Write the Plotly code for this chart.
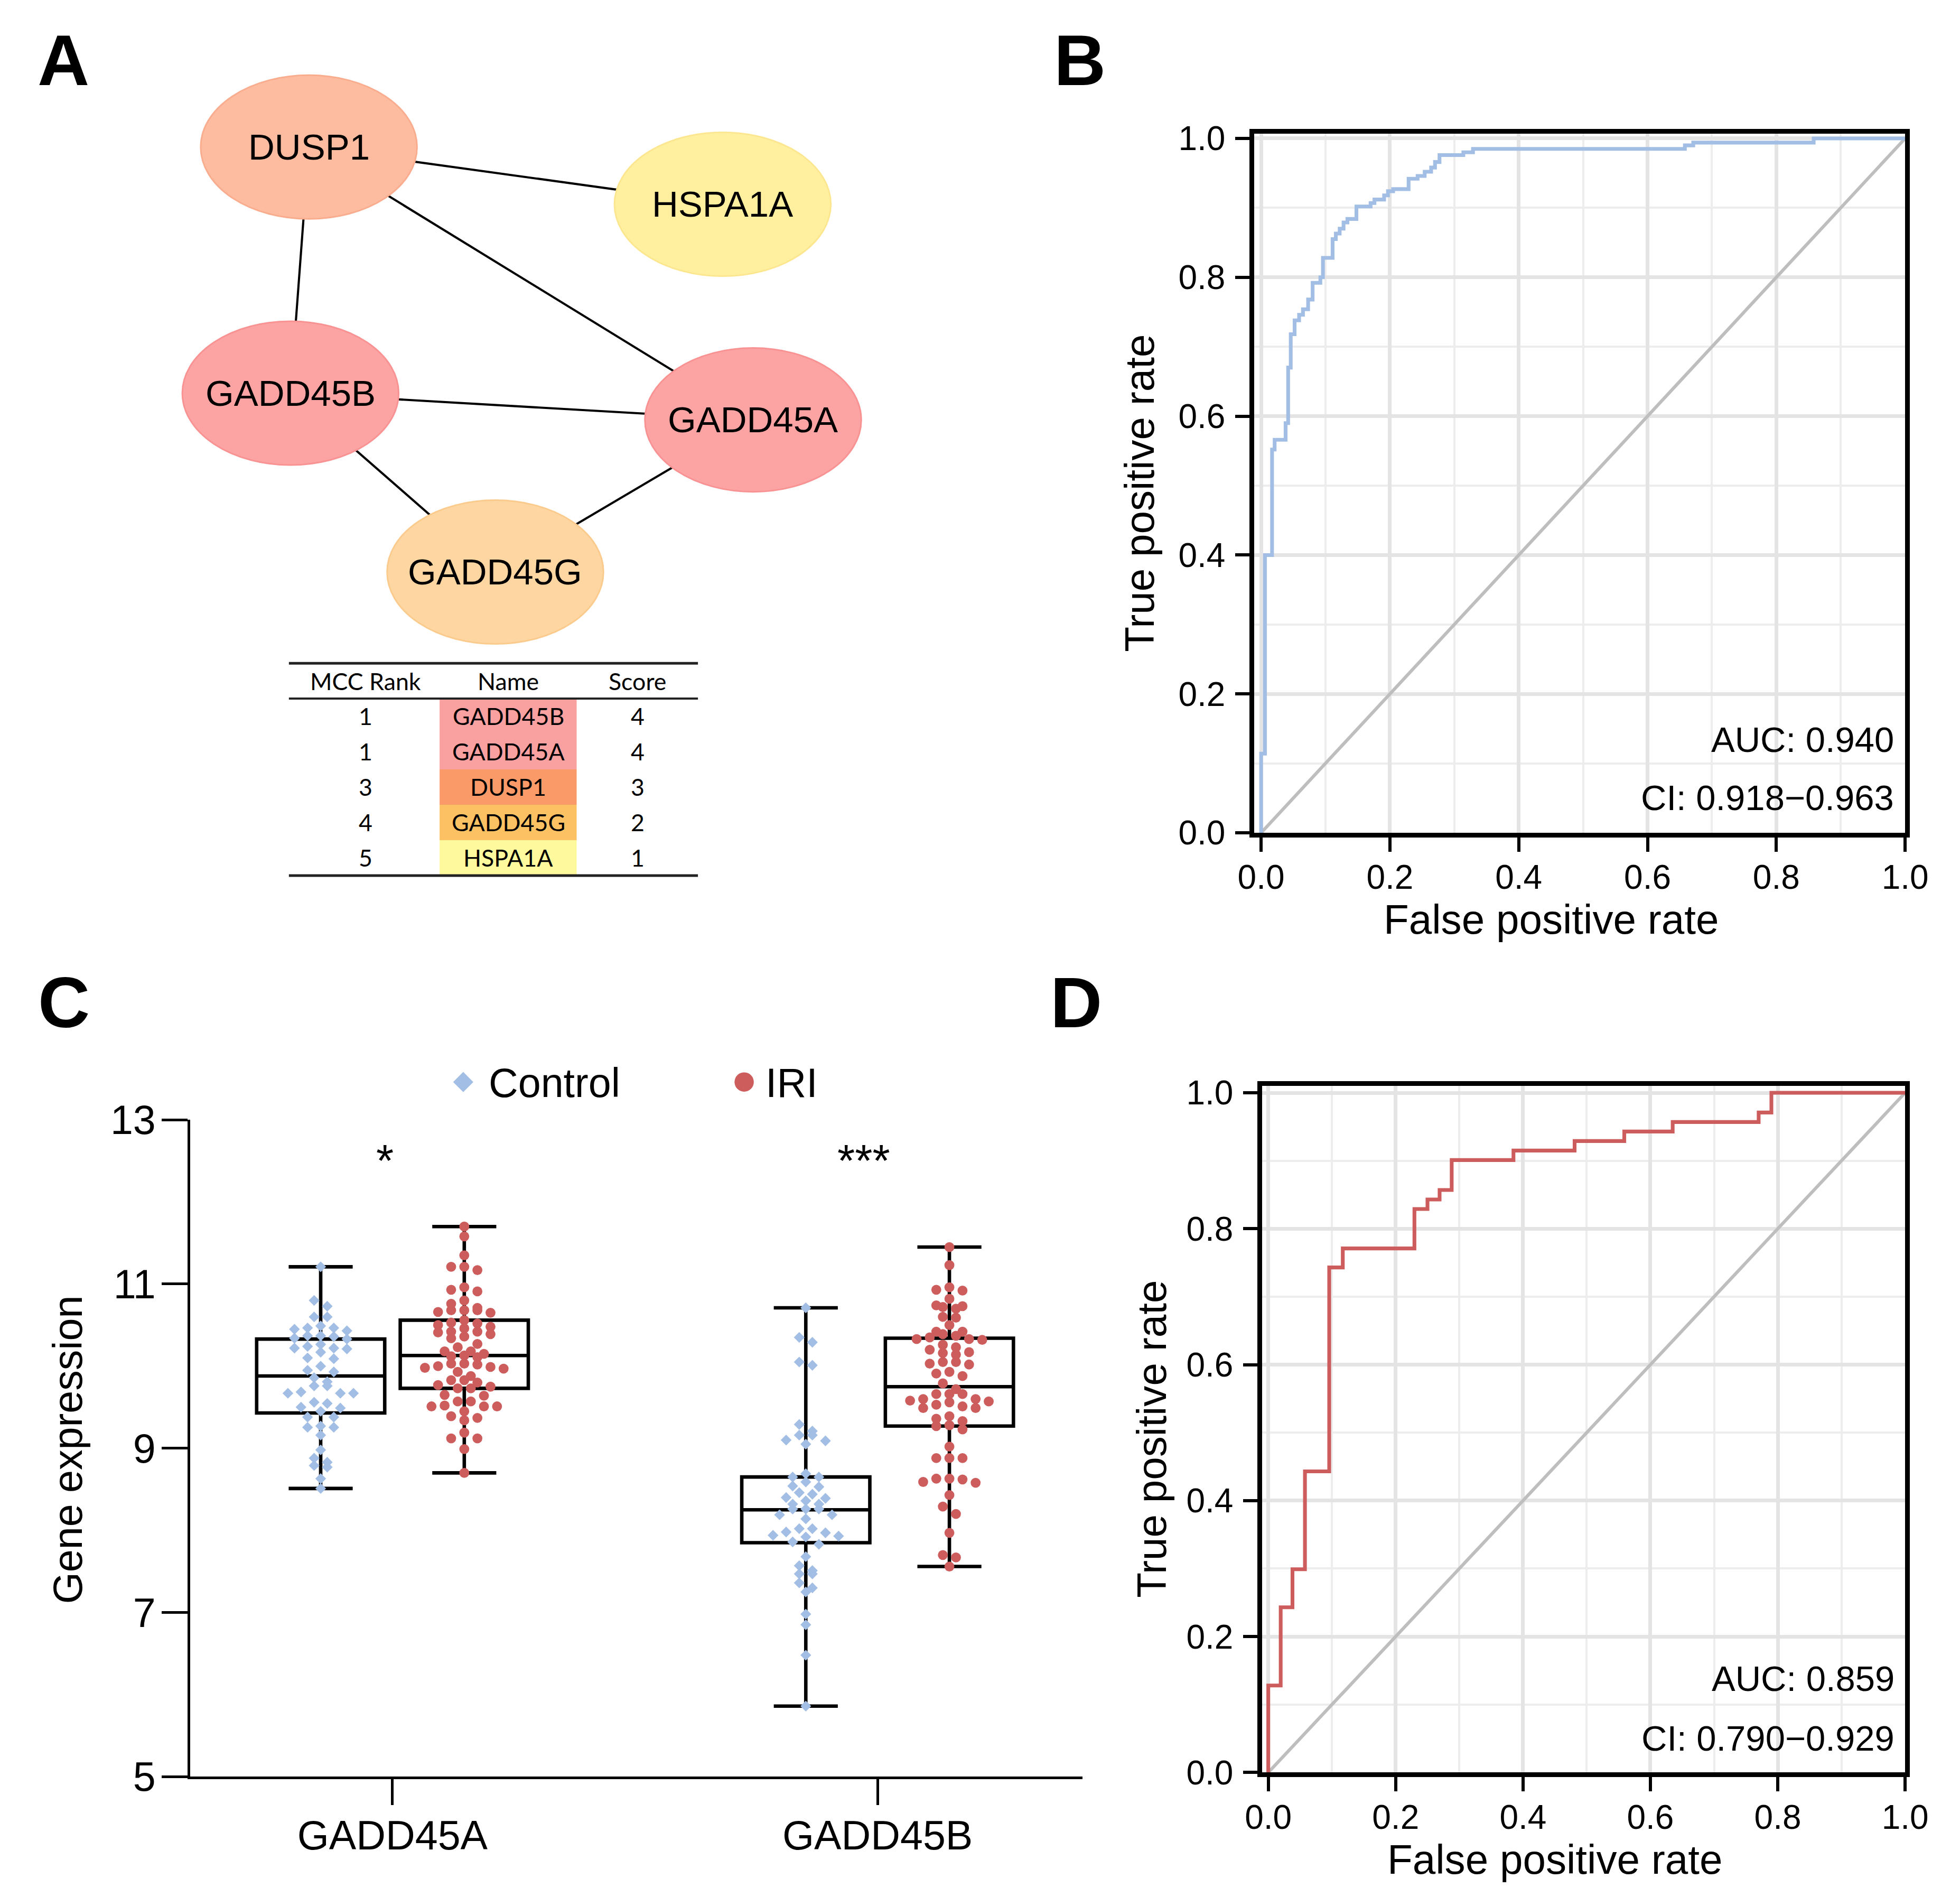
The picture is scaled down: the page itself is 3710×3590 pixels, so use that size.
import numpy as np
import plotly.graph_objects as go

W, H = 3710, 3590
FONT = "Liberation Sans, Arial, sans-serif"
TFONT = "Lato, Open Sans, sans-serif"

# ---------------- Panel A: network (layout) ----------------
node_names = ["DUSP1", "HSPA1A", "GADD45B", "GADD45A", "GADD45G"]
node_x = [587, 1375, 552, 1433, 942]
node_y = [275, 384, 744, 795, 1085]
node_colors = ["#FDBCA0", "#FFF0A0", "#FCA3A3", "#FCA3A3", "#FDD6A1"]
node_border = ["#F9AD8E", "#FCE790", "#F99393", "#F99393", "#FBCB8E"]
edge_from = ["DUSP1", "DUSP1", "DUSP1", "GADD45B", "GADD45B", "GADD45A"]
edge_to = ["HSPA1A", "GADD45B", "GADD45A", "GADD45A", "GADD45G", "GADD45G"]

table_header = ["MCC Rank", "Name", "Score"]
table_rank = ["1", "1", "3", "4", "5"]
table_name = ["GADD45B", "GADD45A", "DUSP1", "GADD45G", "HSPA1A"]
table_score = ["4", "4", "3", "2", "1"]
table_colors = ["#F9A0A0", "#F9A0A0", "#F99A68", "#FBC163", "#FDF99C"]

# ---------------- Panel B: ROC ----------------
rocB_fpr = [0, 0, 0.006, 0.017, 0.021, 0.038, 0.042, 0.046, 0.052, 0.059,
            0.065, 0.073, 0.080, 0.092, 0.096, 0.111, 0.116, 0.122, 0.128, 0.134,
            0.148, 0.170, 0.176, 0.191, 0.197, 0.205, 0.229, 0.243, 0.254, 0.264,
            0.270, 0.277, 0.314, 0.329, 0.658, 0.671, 0.858, 1.0]
rocB_tpr = [0, 0.114, 0.400, 0.552, 0.566, 0.590, 0.670, 0.718, 0.738, 0.746,
            0.754, 0.768, 0.792, 0.800, 0.828, 0.855, 0.863, 0.870, 0.879, 0.884,
            0.902, 0.907, 0.912, 0.918, 0.924, 0.927, 0.942, 0.946, 0.952, 0.958,
            0.966, 0.976, 0.980, 0.985, 0.990, 0.994, 1.0, 1.0]
aucB_text = ["AUC: 0.940", "CI: 0.918\u22120.963"]

# ---------------- Panel D: ROC ----------------
rocD_fpr = [0, 0, 0.0195, 0.038, 0.0576, 0.0957, 0.117, 0.2295, 0.250, 0.269,
            0.288, 0.385, 0.481, 0.559, 0.635, 0.770, 0.790, 1.0]
rocD_tpr = [0, 0.128, 0.243, 0.299, 0.443, 0.743, 0.771, 0.829, 0.843, 0.857,
            0.901, 0.915, 0.929, 0.943, 0.957, 0.971, 1.0, 1.0]
aucD_text = ["AUC: 0.859", "CI: 0.790\u22120.929"]

# ---------------- Panel C: expression ----------------
genes = ["GADD45A", "GADD45B"]
group_names = ["Control", "IRI"]
ctrl_A = [11.21, 10.80, 10.73, 10.60, 10.60, 10.49,
          10.465, 10.37, 10.24, 10.43, 10.33, 10.21, 10.10, 10.36, 10.22,
          10.465, 10.37, 10.265, 10.17, 10.09, 10.00, 10.45, 10.34, 10.22,
          9.93, 9.81, 9.685, 9.95, 9.67, 9.86, 9.76, 9.67, 9.56, 9.45,
          9.76, 9.545, 9.67, 9.49,
          9.50, 9.38, 9.255, 9.16, 8.98, 8.83, 8.63, 8.51,
          9.38, 9.27, 8.79, 9.255, 8.88, 8.77]
iri_A = [11.70, 11.58, 11.35, 11.17, 10.93, 10.80, 10.66, 10.56, 10.46, 10.39,
         10.13, 9.98, 9.73, 9.51, 9.37, 9.19, 8.99, 8.70,
         11.21, 10.91, 10.68, 10.50, 10.34, 10.23, 10.12, 10.02, 9.93, 9.83,
         9.75, 9.57, 9.45, 9.34, 9.12,
         11.21, 10.96, 10.68, 10.48, 10.36, 10.15, 9.97, 9.83, 9.73, 9.39, 9.12,
         10.65, 10.52, 10.42, 10.27, 10.18, 9.99, 9.88, 9.77, 9.57,
         10.68, 10.53, 10.41, 10.11, 10.03, 9.80, 9.64, 9.51,
         10.71, 10.18, 10.03, 9.51,
         10.76, 10.42, 10.00, 9.65, 9.52]
ctrl_B = [10.71, 7.68, 6.98, 6.85, 6.48, 5.86,
          10.35, 10.05, 9.16, 8.69, 8.54, 8.40, 8.32, 8.19, 7.98, 7.83, 7.51, 7.36, 7.25,
          10.29, 10.01, 9.09, 8.65, 8.53, 8.46, 8.26, 8.14, 7.97, 7.86, 7.30,
          9.29, 9.16, 9.05, 8.59, 8.44, 8.32, 8.19, 8.02, 7.92, 7.57, 7.47,
          9.21, 9.10, 8.65, 8.39, 8.26, 8.02, 7.93, 7.47,
          8.36, 7.94, 8.26]
iri_B = [11.45, 11.23, 10.82, 10.50, 9.88, 9.02, 8.88, 8.43, 8.29, 8.20, 7.97, 7.56,
         10.93, 10.72, 10.32, 10.17, 10.05, 9.79, 9.53, 9.39, 9.27,
         10.92, 10.73, 10.59, 10.42, 10.33, 10.20, 10.02, 9.60, 9.49, 9.36, 9.28, 8.58, 7.67,
         10.96, 10.70, 10.35, 10.26, 10.16, 10.05, 9.66, 9.58, 9.49, 8.63,
         10.74, 10.60, 10.42, 10.33, 10.23, 10.14, 10.03, 9.72, 9.60, 9.51, 9.33, 9.23, 8.59, 7.70,
         10.39, 9.66, 9.56, 8.62,
         10.37, 9.66, 9.57, 8.63,
         9.93, 8.88,
         9.91, 8.88]
# box statistics: ctrl_A, iri_A, ctrl_B, iri_B
box_q1 = [9.43, 9.73, 7.85, 9.27]
box_median = [9.88, 10.13, 8.25, 9.75]
box_q3 = [10.33, 10.56, 8.65, 10.34]
signif = ["*", "***"]

CTRL_COLOR = "#A3BEE5"
IRI_COLOR = "#CD5C5C"

# The photographed page shows the paper slightly inset; map target picture px -> paper.
OX, OY, SX, SY = 31.0, 38.0, 0.9855, 0.983
K = 1.0 / 0.985   # size compensation


def PX(x):
    return (x - OX) / SX / W


def PY(y):
    return 1 - (y - OY) / SY / H


def fs(v):
    return round(v * K, 1)


def swarm_offsets(vals, row_h=0.09):
    vals = np.asarray(vals, dtype=float)
    order = np.argsort(-vals, kind="stable")
    sv = vals[order]
    offs = np.zeros(len(vals))
    i = 0
    while i < len(sv):
        j = i
        while j + 1 < len(sv) and sv[i] - sv[j + 1] <= row_h:
            j += 1
        n = j - i + 1
        slots = sorted(np.arange(n) - (n - 1) / 2.0, key=lambda s: (abs(s), s))
        for k in range(n):
            offs[order[i + k]] = slots[k]
        i = j + 1
    return offs


fig = go.Figure()
shapes = []
annotations = []

# ---------- Panel A ----------
idx = {n: i for i, n in enumerate(node_names)}
for a, b in zip(edge_from, edge_to):
    i, j = idx[a], idx[b]
    shapes.append(dict(type="line", xref="x4", yref="y4", x0=node_x[i], y0=node_y[i],
                       x1=node_x[j], y1=node_y[j], line=dict(color="black", width=fs(4))))
RX, RY = 206, 137
for i, n in enumerate(node_names):
    shapes.append(dict(type="circle", xref="x4", yref="y4",
                       x0=node_x[i] - RX, x1=node_x[i] + RX,
                       y0=node_y[i] - RY, y1=node_y[i] + RY,
                       fillcolor=node_colors[i], line=dict(color=node_border[i], width=3)))
    annotations.append(dict(xref="x4", yref="y4", x=node_x[i], y=node_y[i], text=n,
                            showarrow=False, font=dict(family=FONT, size=fs(68), color="black")))

# table
TX0, TX1 = 549, 1328
TY_TOP, TY_HEAD = 1259, 1326
ROW_H = 67.5
col_x = [695, 967, 1213]
NX0, NX1 = 836, 1097
for k in range(len(table_name)):
    shapes.append(dict(type="rect", xref="x4", yref="y4", x0=NX0, x1=NX1,
                       y0=TY_HEAD + k * ROW_H, y1=TY_HEAD + (k + 1) * ROW_H,
                       fillcolor=table_colors[k], line=dict(width=0)))
TY_BOT = TY_HEAD + len(table_name) * ROW_H
for yy, lw in [(TY_TOP, 5), (TY_HEAD, 4), (TY_BOT, 5)]:
    shapes.append(dict(type="line", xref="x4", yref="y4", x0=TX0, x1=TX1, y0=yy, y1=yy,
                       line=dict(color="#222222", width=lw)))
for c, txt in enumerate(table_header):
    annotations.append(dict(xref="x4", yref="y4", x=col_x[c], y=(TY_TOP + TY_HEAD) / 2,
                            text=txt, showarrow=False,
                            font=dict(family=TFONT, size=fs(44), color="black")))
for k in range(len(table_name)):
    yy = TY_HEAD + (k + 0.5) * ROW_H
    for c, txt in enumerate([table_rank[k], table_name[k], table_score[k]]):
        annotations.append(dict(xref="x4", yref="y4", x=col_x[c], y=yy, text=txt,
                                showarrow=False, font=dict(family=TFONT, size=fs(44), color="black")))

# ---------- Panel B ----------
fig.add_trace(go.Scatter(x=[0, 1], y=[0, 1], mode="lines", line=dict(color="#BEBEBE", width=fs(6)),
                         xaxis="x", yaxis="y", hoverinfo="skip"))
fig.add_trace(go.Scatter(x=rocB_fpr, y=rocB_tpr, mode="lines",
                         line=dict(color=CTRL_COLOR, width=fs(7), shape="hv"),
                         xaxis="x", yaxis="y"))
# ---------- Panel D ----------
fig.add_trace(go.Scatter(x=[0, 1], y=[0, 1], mode="lines", line=dict(color="#BEBEBE", width=fs(6)),
                         xaxis="x2", yaxis="y2", hoverinfo="skip"))
fig.add_trace(go.Scatter(x=rocD_fpr, y=rocD_tpr, mode="lines",
                         line=dict(color=IRI_COLOR, width=fs(7), shape="hv"),
                         xaxis="x2", yaxis="y2"))

# ---------- Panel C ----------
GROUP_OFF = 0.148
BOX_W = 0.264
STEP = 25 / 925.0
data_sets = [ctrl_A, iri_A, ctrl_B, iri_B]
k = 0
for g in range(len(genes)):
    for s in range(len(group_names)):
        vals = data_sets[k]
        pos = g + (-GROUP_OFF if s == 0 else GROUP_OFF)
        fig.add_trace(go.Box(x=[pos], q1=[box_q1[k]], median=[box_median[k]], q3=[box_q3[k]],
                             lowerfence=[min(vals)], upperfence=[max(vals)],
                             width=BOX_W, whiskerwidth=0.5, boxpoints=False,
                             line=dict(color="black", width=fs(6.5)), fillcolor="rgba(0,0,0,0)",
                             xaxis="x3", yaxis="y3", hoverinfo="skip"))
        k += 1
k = 0
for g in range(len(genes)):
    for s in range(len(group_names)):
        vals = data_sets[k]
        pos = g + (-GROUP_OFF if s == 0 else GROUP_OFF)
        xs = pos + swarm_offsets(vals) * STEP
        if s == 0:
            mk = dict(symbol="diamond", size=fs(15.5), color=CTRL_COLOR)
        else:
            mk = dict(symbol="circle", size=fs(18.5), color=IRI_COLOR)
        fig.add_trace(go.Scatter(x=xs, y=vals, mode="markers", marker=mk, cliponaxis=False,
                                 xaxis="x3", yaxis="y3", name=group_names[s]))
        k += 1

# manual legend for panel C
fig.add_trace(go.Scatter(x=[881], y=[2057], mode="markers",
                         marker=dict(symbol="diamond", size=fs(29), color=CTRL_COLOR),
                         xaxis="x4", yaxis="y4", hoverinfo="skip"))
fig.add_trace(go.Scatter(x=[1416], y=[2057], mode="markers",
                         marker=dict(symbol="circle", size=fs(36), color=IRI_COLOR),
                         xaxis="x4", yaxis="y4", hoverinfo="skip"))
annotations.append(dict(xref="x4", yref="y4", x=927, y=2058, text=group_names[0], xanchor="left",
                        showarrow=False, font=dict(family=FONT, size=fs(76), color="black")))
annotations.append(dict(xref="x4", yref="y4", x=1455, y=2058, text=group_names[1], xanchor="left",
                        showarrow=False, font=dict(family=FONT, size=fs(76), color="black")))
star_shift = [-14, -26]
for g, s in enumerate(signif):
    annotations.append(dict(xref="x3", yref="y3", x=g, y=12.5, text=s, xshift=star_shift[g],
                            showarrow=False, font=dict(family=FONT, size=fs(84), color="black")))

# ---------- text annotations ----------
def add_text(x, y, text, size, angle=0, xanchor="center", bold=False):
    annotations.append(dict(xref="x4", yref="y4", x=x, y=y,
                            text=("<b>%s</b>" % text) if bold else text,
                            showarrow=False, textangle=angle, xanchor=xanchor, yanchor="middle",
                            font=dict(family=FONT, size=fs(size), color="black")))

add_text(120, 110, "A", 134, bold=True)
add_text(2055, 110, "B", 134, bold=True)
add_text(121, 1905, "C", 134, bold=True)
add_text(2048, 1905, "D", 134, bold=True)

add_text(2953, 1747, "False positive rate", 77)
add_text(2169, 935, "True positive rate", 77, angle=-90)
add_text(2960, 3539, "False positive rate", 77)
add_text(2192, 2737, "True positive rate", 77, angle=-90)
add_text(127, 2757, "Gene expression", 76, angle=-90)

add_text(3608, 1404, aucB_text[0], 66, xanchor="right")
add_text(3608, 1515, aucB_text[1], 66, xanchor="right")
add_text(3609, 3194, aucD_text[0], 66, xanchor="right")
add_text(3609, 3308, aucD_text[1], 66, xanchor="right")

# ---------- axes ----------
def roc_axis(rng):
    return dict(range=rng, showline=True, linecolor="black", linewidth=fs(9), mirror=True,
                ticks="outside", ticklen=fs(26), tickwidth=fs(6), tickcolor="black",
                showgrid=True, gridcolor="#E4E4E4", gridwidth=fs(7), zeroline=False,
                tick0=0, dtick=0.2, tickformat=".1f",
                tickfont=dict(family=FONT, size=fs(63), color="black"),
                minor=dict(dtick=0.1, showgrid=True, gridcolor="#EDEDED", gridwidth=3.5, ticks=""),
                fixedrange=True)

xB = roc_axis([-0.011, 1.0]); xB.update(domain=[PX(2387), PX(3627)], anchor="y")
yB = roc_axis([0, 1.0072]); yB.update(domain=[PY(1582), PY(249)], anchor="x")
xD = roc_axis([-0.01, 1.0]); xD.update(domain=[PX(2402), PX(3627)], anchor="y2")
yD = roc_axis([0, 1.0104]); yD.update(domain=[PY(3373), PY(2064)], anchor="x2")
xB["ticklabelstandoff"] = -6
xD["ticklabelstandoff"] = -6
yB["ticklabelstandoff"] = 6
yD["ticklabelstandoff"] = 6

xC = dict(domain=[PX(361), PX(2060)], anchor="y3", range=[-0.417, 1.422],
          showline=True, linecolor="black", linewidth=fs(5), ticks="outside", ticklen=fs(48),
          tickwidth=fs(5), tickcolor="black", tickvals=list(range(len(genes))), ticktext=genes,
          showgrid=False, zeroline=False, tickfont=dict(family=FONT, size=fs(76), color="black"),
          fixedrange=True, ticklabelstandoff=-9)
yC = dict(domain=[PY(3381), PY(2129)], anchor="x3", range=[5, 13],
          showline=True, linecolor="black", linewidth=fs(5), ticks="outside", ticklen=fs(48),
          tickwidth=fs(5), tickcolor="black", tickvals=[5, 7, 9, 11, 13], showgrid=False,
          zeroline=False, tickfont=dict(family=FONT, size=fs(76), color="black"), fixedrange=True,
          ticklabelstandoff=-4)

# overlay axes in target-picture pixel units
xP = dict(domain=[0, 1], range=[OX, OX + SX * W], visible=False, anchor="y4", fixedrange=True)
yP = dict(domain=[0, 1], range=[OY + SY * H, OY], visible=False, anchor="x4", fixedrange=True)

fig.update_layout(
    width=W, height=H, margin=dict(l=0, r=0, t=0, b=0), autosize=False,
    paper_bgcolor="white", plot_bgcolor="rgba(0,0,0,0)", showlegend=False,
    boxmode="overlay",
    xaxis=xB, yaxis=yB, xaxis2=xD, yaxis2=yD, xaxis3=xC, yaxis3=yC, xaxis4=xP, yaxis4=yP,
    shapes=shapes, annotations=annotations,
    font=dict(family=FONT, color="black"),
)

fig.write_html("out.html", config={"displayModeBar": False},
               post_script="document.body.style.margin='0';document.body.style.overflow='hidden';")
